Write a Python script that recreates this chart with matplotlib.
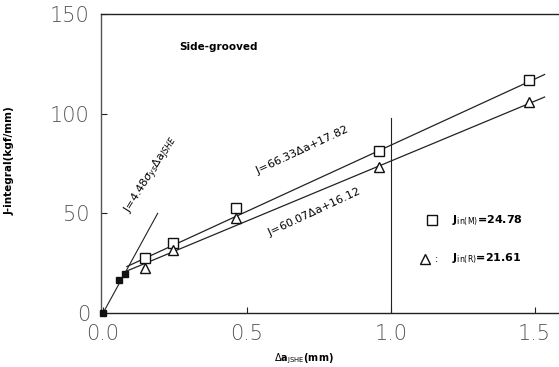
import matplotlib
matplotlib.use("Agg")
import matplotlib.pyplot as plt
import numpy as np

# Data
blunt_x = [0.0, 0.056, 0.076]
blunt_y = [0.0, 16.5, 19.5]
sq_x = [0.146, 0.243, 0.462, 0.958, 1.48]
sq_y = [27.5, 35.0, 52.5, 81.5, 117.0]
tri_x = [0.146, 0.243, 0.462, 0.958, 1.48]
tri_y = [22.5, 31.5, 47.5, 73.0, 106.0]
blunt_line_x = [0.0, 0.19]
blunt_line_y = [0.0, 50.0]
fit_m = (66.33, 17.82)
fit_r = (60.07, 16.12)
fit_range = [0.083, 1.535]
xticks = [0.0, 0.5, 1.0, 1.5]
xtick_labels = ["0.0", "0.5", "1.0", "1.5"]
yticks = [0, 50, 100, 150]
ytick_labels = ["0", "50", "100", "150"]

fig = plt.figure(figsize=(5.59, 3.67), dpi=100)
ax = fig.add_axes([0.1807, 0.147, 0.8193, 0.815])
ax.set_xlim(-0.007, 1.585)
ax.set_ylim(0, 150)

ax.spines["right"].set_visible(False)
for s in ["left", "bottom", "top"]:
    ax.spines[s].set_linewidth(1.0)
    ax.spines[s].set_color("#222")
ax.spines["left"].set_color("#555")

# blunting line and points
ax.plot(blunt_line_x, blunt_line_y, color="#222", lw=0.8)
ax.plot(blunt_x, blunt_y, "s", color="#111", ms=5, clip_on=False, zorder=5)

# regression lines
xr = np.array(fit_range)
ax.plot(xr, fit_m[0] * xr + fit_m[1], color="#222", lw=0.9)
ax.plot(xr, fit_r[0] * xr + fit_r[1], color="#222", lw=0.9)

ax.plot(sq_x, sq_y, "s", mfc="white", mec="#111", ms=7, mew=1.0, zorder=4)
ax.plot(tri_x, tri_y, "^", mfc="white", mec="#111", ms=7, mew=1.0, zorder=4)

# vertical exclusion line
ax.plot([1.0, 1.0], [0, 98], color="#222", lw=0.8)

# ticks
ax.set_xticks(xticks)
ax.set_xticklabels(xtick_labels)
ax.set_yticks(yticks)
ax.set_yticklabels(ytick_labels)
ax.tick_params(direction="in", length=4, width=0.8, colors="#222",
               labelsize=15, pad=8)
for lab in ax.get_xticklabels() + ax.get_yticklabels():
    lab.set_fontweight("light")
    lab.set_color("#555")

ax.set_ylabel("J-integral(kgf/mm)", fontsize=7.5, fontweight="bold")
ax.yaxis.set_label_coords(-0.188, 0.51)
ax.set_xlabel(r"$\Delta$a$_{\mathrm{JSHE}}$(mm)", fontsize=7, fontweight="bold")
ax.xaxis.set_label_coords(0.443, -0.13)

ax.text(0.40, 133.5, "Side-grooved", fontsize=7.5, fontweight="bold",
        ha="center", va="center")
ax.text(0.69, 81.5, r"J=66.33$\Delta$a+17.82", fontsize=8, ha="center",
        va="center", rotation=25)
ax.text(0.733, 50.5, r"J=60.07$\Delta$a+16.12", fontsize=8, ha="center",
        va="center", rotation=25)
ax.text(0.17, 69, r"J=4.48$\sigma_{ys}\Delta$a$_{JSHE}$", fontsize=8,
        ha="center", va="center", rotation=58)

# legend-like annotations
ax.plot([1.142], [46.5], "s", mfc="white", mec="#111", ms=7, mew=1.0)
ax.text(1.212, 46.5, r"J$_{\mathrm{in(M)}}$=24.78", fontsize=8, fontweight="bold",
        va="center")
ax.plot([1.118], [27], "^", mfc="white", mec="#111", ms=7, mew=1.0)
ax.text(1.155, 27, ":", fontsize=7, va="center")
ax.text(1.212, 27, r"J$_{\mathrm{in(R)}}$=21.61", fontsize=8, fontweight="bold",
        va="center")

fig.savefig("out.png", dpi=100)
